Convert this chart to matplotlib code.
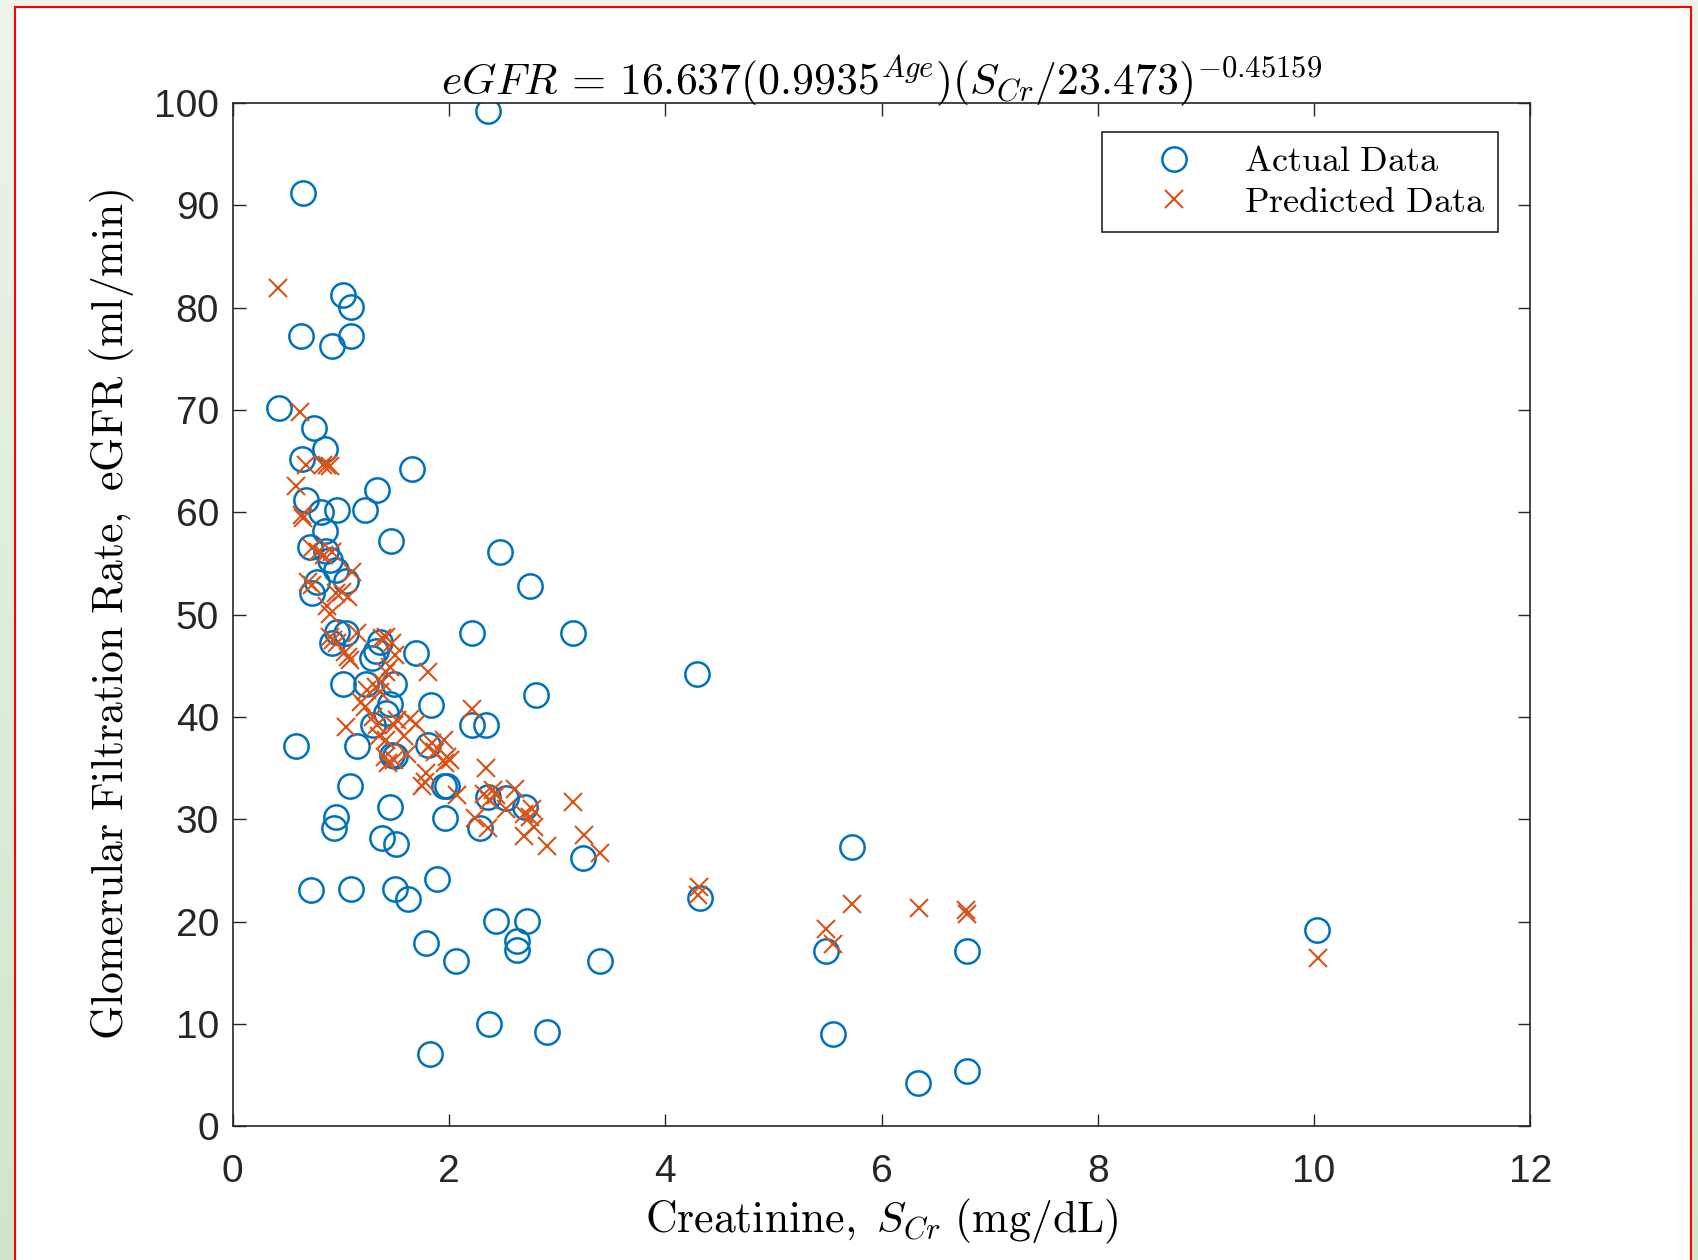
import numpy as np
import matplotlib
matplotlib.use("Agg")
import matplotlib.pyplot as plt
from matplotlib.patches import Rectangle
from matplotlib.colors import LinearSegmentedColormap

# ---------------- data ----------------
actual_scr = [2.36, 0.65, 1.02, 1.09, 0.63, 1.09, 0.92, 0.43, 0.75, 0.85,
              0.64, 1.66, 1.33, 0.68, 0.82, 0.96, 1.22, 0.85, 1.46, 0.71,
              0.86, 2.47, 0.90, 0.95, 1.05, 0.78, 0.73, 2.75, 0.96, 1.05,
              0.92, 1.36, 1.29, 1.32, 1.69, 2.21, 3.15, 4.29, 1.02, 1.23,
              1.49, 2.80, 1.83, 1.45, 1.42, 1.30, 2.21, 2.34, 0.58, 1.15,
              1.81, 1.47, 1.50, 1.95, 1.98, 1.08, 1.45, 1.96, 0.95, 0.94,
              2.36, 2.53, 2.70, 2.29, 1.38, 1.51, 3.24, 5.73, 1.89, 0.72,
              1.09, 1.50, 1.62, 4.32, 2.43, 2.72, 10.03, 1.79, 2.63, 2.63,
              5.49, 6.79, 2.06, 3.40, 2.37, 2.91, 5.55, 1.82, 6.34, 6.79]
actual_egfr = [99.2, 91.2, 81.2, 80.1, 77.2, 77.2, 76.2, 70.2, 68.2, 66.2,
               65.2, 64.2, 62.2, 61.2, 60.0, 60.2, 60.2, 58.2, 57.2, 56.6,
               56.2, 56.1, 55.3, 54.4, 53.3, 53.2, 52.1, 52.8, 48.3, 48.2,
               47.2, 47.3, 45.8, 46.4, 46.2, 48.2, 48.2, 44.2, 43.2, 43.2,
               43.2, 42.1, 41.2, 41.3, 40.4, 39.2, 39.2, 39.2, 37.2, 37.2,
               37.3, 36.3, 36.2, 33.2, 33.2, 33.2, 31.2, 30.1, 30.2, 29.1,
               32.2, 32.1, 31.2, 29.1, 28.2, 27.6, 26.2, 27.3, 24.2, 23.1,
               23.2, 23.2, 22.2, 22.3, 20.1, 20.1, 19.2, 17.9, 18.1, 17.2,
               17.1, 17.1, 16.1, 16.1, 10.0, 9.2, 9.0, 7.1, 4.2, 5.4]

pred_scr = [0.42, 0.62, 0.68, 0.83, 0.87, 0.90, 0.58, 0.64, 0.65, 0.73,
            0.79, 0.84, 0.92, 1.10, 0.70, 0.73, 0.95, 1.01, 1.07, 0.87,
            0.90, 0.90, 0.93, 0.96, 1.04, 1.07, 1.08, 1.15, 1.38, 1.42,
            1.47, 1.50, 1.81, 1.45, 1.42, 1.38, 1.32, 1.24, 1.36, 1.22,
            1.19, 1.05, 1.33, 1.30, 1.49, 1.52, 1.64, 1.69, 1.42, 1.35,
            1.58, 1.41, 1.44, 1.49, 1.61, 1.81, 1.84, 1.87, 1.95, 1.98,
            2.01, 1.96, 1.79, 1.78, 1.75, 2.07, 2.21, 2.34, 2.24, 2.36,
            2.32, 2.41, 2.43, 2.37, 2.61, 2.53, 2.69, 2.77, 2.75, 2.69,
            2.79, 2.91, 3.15, 3.25, 3.40, 4.31, 4.30, 5.49, 5.55, 5.73,
            6.35, 6.78, 6.79, 10.04]
pred_egfr = [81.9, 69.8, 64.6, 64.6, 64.6, 64.5, 62.6, 59.7, 59.4, 56.5,
             56.1, 55.8, 56.1, 54.2, 53.2, 52.9, 52.1, 52.2, 51.7, 50.8,
             50.1, 47.8, 47.5, 47.2, 46.3, 45.9, 45.6, 48.2, 47.7, 47.8,
             47.2, 46.0, 44.4, 44.9, 44.4, 43.4, 42.9, 42.6, 42.4, 41.0,
             41.5, 39.0, 39.2, 40.0, 39.2, 39.7, 39.8, 39.3, 37.7, 38.1,
             38.1, 36.1, 35.5, 35.8, 36.4, 37.1, 37.4, 36.6, 37.7, 36.1,
             35.8, 35.5, 34.5, 33.6, 33.2, 32.4, 40.8, 35.0, 30.1, 29.1,
             32.5, 32.9, 32.4, 31.9, 33.0, 31.0, 30.5, 31.0, 30.2, 28.4,
             29.2, 27.4, 31.7, 28.5, 26.7, 23.4, 22.6, 19.3, 17.8, 21.7,
             21.3, 21.1, 20.7, 16.4]

x_ticks = [0, 2, 4, 6, 8, 10, 12]
y_ticks = [0, 10, 20, 30, 40, 50, 60, 70, 80, 90, 100]
legend_labels = [r"$\mathrm{Actual\ Data}$", r"$\mathrm{Predicted\ Data}$"]

title_text = r"$eGFR\,=\,16.637(0.9935^{Age})(S_{Cr}/23.473)^{-0.45159}$"
xlabel_text = r"$\mathrm{Creatinine,}\ S_{Cr}\ \mathrm{(mg/dL)}$"
ylabel_text = r"$\mathrm{Glomerular\ Filtration\ Rate,\ eGFR\ (ml/min)}$"

# ---------------- styling ----------------
BLUE = "#0072BD"
ORANGE = "#D95319"
AXC = "#262626"

plt.rcParams["mathtext.fontset"] = "cm"
plt.rcParams["font.family"] = ["Liberation Sans", "DejaVu Sans"]

W, H = 1698, 1260
fig = plt.figure(figsize=(W / 100, H / 100), dpi=100)

# background: soft green gradient with white panel and red frame
bg = fig.add_axes([0, 0, 1, 1], zorder=-10)
grad = np.linspace(0, 1, 256).reshape(-1, 1)
cmap = LinearSegmentedColormap.from_list("g", ["#eef4ea", "#cfe6cc"])
bg.imshow(grad, aspect="auto", cmap=cmap, extent=[0, 1, 0, 1], origin="upper")
bg.add_patch(Rectangle((15 / W, -0.01), (1691 - 15) / W, (1260 - 7) / H + 0.01,
                       transform=bg.transAxes, facecolor="white",
                       edgecolor="#ff0000", linewidth=1.5))
bg.set_xlim(0, 1)
bg.set_ylim(0, 1)
bg.axis("off")

left, right = 232.8 / W, 1530.2 / W
bottom, top = 1 - 1126.2 / H, 1 - 102.9 / H
ax = fig.add_axes([left, bottom, right - left, top - bottom])

ax.plot(actual_scr, actual_egfr, linestyle="none", marker="o", ms=17.5,
        mfc="none", mec=BLUE, mew=1.8, label=legend_labels[0])
ax.plot(pred_scr, pred_egfr, linestyle="none", marker="x", ms=12.5,
        mec=ORANGE, mew=1.5, label=legend_labels[1])

ax.set_xlim(0, 12)
ax.set_ylim(0, 100)
ax.set_xticks(x_ticks)
ax.set_yticks(y_ticks)
ax.tick_params(axis="both", direction="in", length=9, width=1.0, color=AXC,
               labelsize=28, labelcolor="#262626", top=True, right=True)
ax.tick_params(axis="x", pad=20)
ax.tick_params(axis="y", pad=10)
for s in ax.spines.values():
    s.set_color(AXC)
    s.set_linewidth(1.2)

ax.set_title(title_text, fontsize=31.5, pad=6)
ax.set_xlabel(xlabel_text, fontsize=31.5, labelpad=5)
ax.set_ylabel(ylabel_text, fontsize=31.5, labelpad=12)

leg = ax.legend(loc="upper right", bbox_to_anchor=(0.975, 0.972),
                borderaxespad=0, prop={"size": 26},
                fancybox=False, edgecolor="#262626", framealpha=1,
                borderpad=0.35, handletextpad=0.32, labelspacing=0.15,
                handlelength=3.27)
leg.get_frame().set_linewidth(1.2)

fig.savefig("out.png", dpi=100)
